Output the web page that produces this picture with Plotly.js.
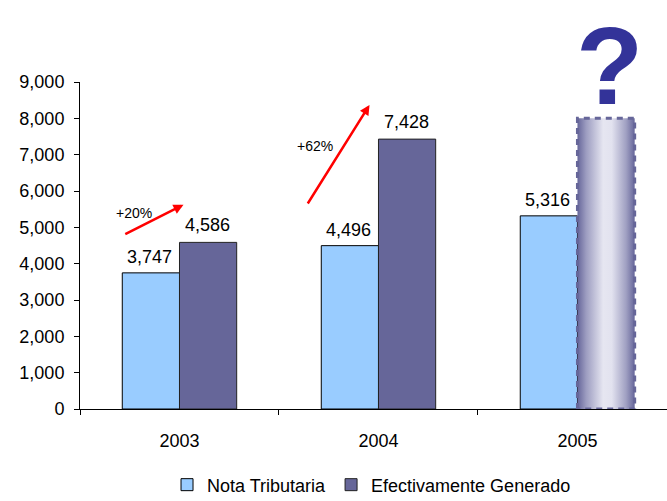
<!DOCTYPE html>
<html>
<head>
<meta charset="utf-8">
<script src="https://cdn.plot.ly/plotly-3.0.1.min.js"></script>
<style>html,body{margin:0;padding:0;background:#fff;}#chart{width:667px;height:501px;}</style>
</head>
<body>
<div id="chart"></div>
<script>
var years = ['2003', '2004', '2005'];
var notaTributaria = [3747, 4496, 5316];
var efectivamente = [4586, 7428, null];
var projectedYears = ['2005'];
var projected = [8000];
var growthLabels = ['+20%', '+62%'];
var yTicks = [0, 1000, 2000, 3000, 4000, 5000, 6000, 7000, 8000, 9000];

var FONT = 'Liberation Sans, Arial, sans-serif';

var traces = [
  {
    type: 'bar', name: 'Nota Tributaria', x: years, y: notaTributaria,
    offsetgroup: 'a',
    marker: {color: '#99CCFF', line: {color: '#000000', width: 1}},
    hoverinfo: 'skip'
  },
  {
    type: 'bar', name: 'Efectivamente Generado', x: years, y: efectivamente,
    offsetgroup: 'b',
    marker: {color: '#666699', line: {color: '#222222', width: 1}},
    hoverinfo: 'skip'
  },
  {
    type: 'bar', name: 'proj', x: projectedYears, y: projected,
    offsetgroup: 'b', showlegend: false,
    marker: {color: '#b0b0cc', line: {color: '#666699', width: 3}},
    hoverinfo: 'skip'
  }
];

var annotations = [];
function fmt(v) { return v.toLocaleString('en-US'); }
years.forEach(function (yr, i) {
  annotations.push({x: i, y: notaTributaria[i], xref: 'x', yref: 'y', text: fmt(notaTributaria[i]), showarrow: false,
    xanchor: 'center', yanchor: 'bottom', xshift: -30, yshift: 4, font: {family: FONT, size: 18, color: '#000'}});
  if (efectivamente[i] != null) {
    annotations.push({x: i, y: efectivamente[i], xref: 'x', yref: 'y', text: fmt(efectivamente[i]), showarrow: false,
      xanchor: 'center', yanchor: 'bottom', xshift: 28, yshift: 5, font: {family: FONT, size: 18, color: '#000'}});
  }
});
// growth arrows
annotations.push({x: 0.02, y: 5620, ax: -0.28, ay: 4790, xref: 'x', yref: 'y', axref: 'x', ayref: 'y',
  showarrow: true, arrowhead: 2, arrowsize: 0.8, arrowwidth: 2.5, arrowcolor: '#FF0000', text: ''});
annotations.push({x: 0.955, y: 8370, ax: 0.64, ay: 5615, xref: 'x', yref: 'y', axref: 'x', ayref: 'y',
  showarrow: true, arrowhead: 2, arrowsize: 0.8, arrowwidth: 2.5, arrowcolor: '#FF0000', text: ''});
annotations.push({x: -0.23, y: 5400, xref: 'x', yref: 'y', text: growthLabels[0], showarrow: false,
  font: {family: FONT, size: 14, color: '#000'}});
annotations.push({x: 0.68, y: 7250, xref: 'x', yref: 'y', text: growthLabels[1], showarrow: false,
  font: {family: FONT, size: 14, color: '#000'}});
// question mark
annotations.push({x: years.indexOf(projectedYears[0]), y: projected[0], xref: 'x', yref: 'y', text: '<b>?</b>', showarrow: false,
  xanchor: 'center', yanchor: 'bottom', xshift: 32, yshift: -11,
  font: {family: FONT, size: 110, color: '#333399'}});

var layout = {
  width: 667, height: 501,
  margin: {l: 80, r: 0, t: 82, b: 92},
  paper_bgcolor: '#ffffff', plot_bgcolor: '#ffffff',
  barmode: 'group', bargap: 0.425, bargroupgap: 0,
  showlegend: true,
  legend: {orientation: 'h', xref: 'container', yref: 'container', x: 0.557, xanchor: 'center', y: 0.032, yanchor: 'middle',
    font: {family: FONT, size: 18, color: '#000'}, itemwidth: 20, traceorder: 'normal'},
  xaxis: {type: 'category', range: [-0.5, 2.45], showline: true, linecolor: '#000', linewidth: 1,
    ticks: 'outside', tickson: 'boundaries', ticklen: 5, tickcolor: '#000', showgrid: false,
    ticklabelstandoff: 15, tickfont: {family: FONT, size: 18, color: '#000'}, fixedrange: true, automargin: false},
  yaxis: {range: [0, 9000], tickvals: yTicks, ticktext: yTicks.map(fmt), showline: true,
    linecolor: '#000', linewidth: 1, ticks: 'outside', ticklen: 5, tickcolor: '#000', showgrid: false,
    zeroline: false, tickfont: {family: FONT, size: 18, color: '#000'}, ticklabelstandoff: 6, fixedrange: true, automargin: false},
  annotations: annotations,
  font: {family: FONT}
};

Plotly.newPlot('chart', traces, layout, {displayModeBar: false, staticPlot: true}).then(function () {
  var svg = document.querySelector('#chart svg.main-svg');
  var ns = 'http://www.w3.org/2000/svg';
  var defs = svg.querySelector('defs') || svg.insertBefore(document.createElementNS(ns, 'defs'), svg.firstChild);
  var g = document.createElementNS(ns, 'linearGradient');
  g.setAttribute('id', 'projGrad');
  g.setAttribute('x1', '0'); g.setAttribute('x2', '1'); g.setAttribute('y1', '0'); g.setAttribute('y2', '0');
  [['0', '#66669a'], ['0.15', '#9c9cc0'], ['0.45', '#e6e6f1'], ['0.6', '#e2e2ef'], ['0.85', '#a0a0c2'], ['1', '#66669a']].forEach(function (s) {
    var st = document.createElementNS(ns, 'stop');
    st.setAttribute('offset', s[0]); st.setAttribute('stop-color', s[1]);
    g.appendChild(st);
  });
  defs.appendChild(g);
  var barTraces = document.querySelectorAll('#chart .barlayer .trace');
  var proj = barTraces[2];
  if (proj) {
    proj.querySelectorAll('path').forEach(function (p) {
      p.style.fill = 'url(#projGrad)';
      p.style.stroke = '#666699';
      p.style.strokeWidth = '3px';
      p.style.strokeDasharray = '6,5';
    });
  }
});
</script>
</body>
</html>
